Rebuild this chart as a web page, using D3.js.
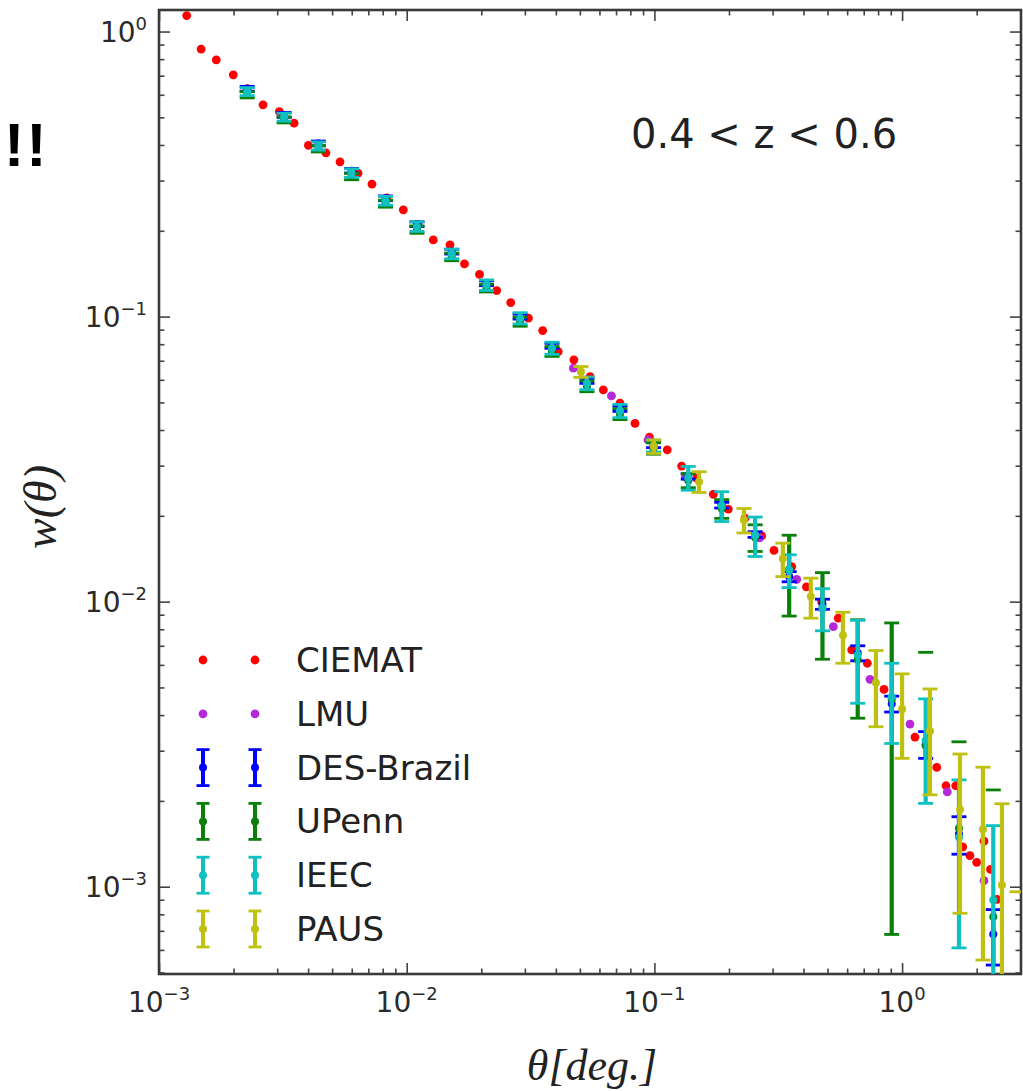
<!DOCTYPE html>
<html><head><meta charset="utf-8">
<script src="https://cdn.jsdelivr.net/npm/d3@7"></script>
<style>body{margin:0;background:#fff}</style>
</head><body>
<svg id="c" width="1023" height="1091"></svg>
<script>
// ---------------- DATA ----------------
const ciematTheta = [0.001294,0.001479,0.001703,0.001995,0.002272,0.00263,0.00306,0.00351,0.00401,0.00472,0.00538,0.00636,0.00724,0.00832,0.00969,0.01111,0.0128,0.01496,0.01711,0.01968,0.02308,0.0263,0.0310,0.0354,0.0409,0.0473,0.0550,0.0622,0.0726,0.0835,0.0955,0.1127,0.1288,0.1482,0.1729,0.1987,0.2322,0.2711,0.3040,0.3584,0.4111,0.4734,0.5526,0.6259,0.7236,0.8453,1.127,1.380,1.504,1.646,1.757,1.879,2.001,2.141,2.275,2.416];
const ciematW = [1.138,0.868,0.796,0.705,0.630,0.553,0.524,0.477,0.399,0.3753,0.349,0.3186,0.2917,0.261,0.2368,0.2099,0.1858,0.1785,0.1531,0.1406,0.1234,0.1120,0.0987,0.0893,0.0754,0.0705,0.0616,0.0553,0.0497,0.0422,0.0378,0.0341,0.0299,0.0271,0.0238,0.0211,0.01962,0.0170,0.01512,0.01327,0.01126,0.0100,0.00875,0.00677,0.00608,0.00492,0.00335,0.00262,0.00226,0.00226,0.00138,0.001285,0.001218,0.001444,0.00115,0.000903];

const lmuTheta = [0.0471,0.0671,0.0942,0.1335,0.187,0.2656,0.3755,0.5277,0.742,1.076,1.522,2.141];
const lmuW = [0.0659,0.0527,0.0369,0.0274,0.0220,0.01673,0.01196,0.00817,0.00534,0.00372,0.00215,0.00105];

const binTheta = [0.00227,0.00320,0.00440,0.00599,0.00821,0.0110,0.0152,0.0210,0.0287,0.0386,0.0534,0.0726,0.0992,0.137,0.187,0.255,0.350,0.477,0.662,0.908,1.245,1.697,2.334];

const desW = [0.63,0.51,0.405,0.325,0.26,0.211,0.169,0.131,0.1,0.079,0.0595,0.0475,0.0355,0.0275,0.0218,0.0172,0.01224,0.0098,0.0066,0.00438,0.00316,0.00153,0.000681];
const desErr = [0.012,0.01,0.008,0.006,0.005,0.004,0.0033,0.0026,0.002,0.0016,0.0012,0.001,0.0008,0.0006,0.0005,0.0004,0.0005,0.0004,0.0004,0.00028,0.00034,0.00023,0.00015];

const upennW = [0.60,0.49,0.388,0.31,0.249,0.202,0.162,0.126,0.096,0.0755,0.057,0.0455,0.0345,0.0266,0.0212,0.0168,0.0130,0.00946,0.00627,0.00455,0.00312,0.001603,0.000785];
const upennErr = [0.015,0.012,0.01,0.008,0.007,0.006,0.005,0.004,0.0035,0.003,0.0025,0.002,0.0016,0.0015,0.0016,0.0018,0.0041,0.00318,0.00237,0.00387,0.00352,0.00162,0.0014];

const ieecW = [0.616,0.501,0.397,0.319,0.255,0.207,0.166,0.129,0.0987,0.0775,0.0584,0.0467,0.0352,0.0272,0.0217,0.0171,0.0129,0.0095,0.0065,0.00463,0.00326,0.00149,0.000898];
const ieecErr = [0.02,0.016,0.013,0.011,0.009,0.008,0.0065,0.0055,0.0045,0.0038,0.003,0.0025,0.0017,0.0026,0.0026,0.0027,0.0017,0.0016,0.0021,0.00145,0.0013,0.00088,0.00074];

const pausTheta = [0.0505,0.0995,0.1514,0.230,0.330,0.428,0.577,0.784,1.0,1.296,1.713,2.12,2.53,2.91];
const pausW = [0.0640,0.0350,0.02636,0.01932,0.01414,0.01042,0.00763,0.00519,0.0042,0.00352,0.001864,0.001589,0.001014,0.0003];
const pausErr = [0.0028,0.0019,0.0022,0.0019,0.0019,0.00167,0.00155,0.00155,0.00138,0.00142,0.001057,0.001036,0.00094,0.00066];

const legendLabels = ["CIEMAT","LMU","DES-Brazil","UPenn","IEEC","PAUS"];
const colors = {CIEMAT:"#ff0000", LMU:"#b52ad8", "DES-Brazil":"#0000ff", UPenn:"#0a800a", IEEC:"#10c0c0", PAUS:"#c0c010"};
const majorTicks = [1e-3,1e-2,1e-1,1];
const majorLabels = ["−3","−2","−1","0"];

// ---------------- CHART ----------------
const svg = d3.select("#c");
const L=159, T=10, R=1021, B=974;
const x = d3.scaleLog().domain([1e-3, 3.02]).range([L, R]);
const y = d3.scaleLog().domain([4.94e-4, 1.19]).range([B, T]);

svg.append("defs").append("clipPath").attr("id","clip")
  .append("rect").attr("x",L).attr("y",T).attr("width",R-L).attr("height",B-T);

function minors(lo, hi){
  const out=[];
  for(let e=-4;e<=1;e++) for(let k=2;k<=9;k++){const v=k*Math.pow(10,e); if(v>=lo&&v<=hi) out.push(v);}
  return out;
}
const xMin = minors(1e-3,3.02), yMin = minors(4.94e-4,1.19);
const tickCol = "#444";
function styleAxis(g){ g.select(".domain").remove(); g.selectAll("line").attr("stroke",tickCol).attr("stroke-width",1.6); g.selectAll("text").remove(); }

[[d3.axisBottom, `translate(0,${B})`, x, majorTicks, 11],[d3.axisBottom, `translate(0,${B})`, x, xMin, 5.5],
 [d3.axisTop, `translate(0,${T})`, x, majorTicks, 11],[d3.axisTop, `translate(0,${T})`, x, xMin, 5.5],
 [d3.axisLeft, `translate(${L},0)`, y, majorTicks, 11],[d3.axisLeft, `translate(${L},0)`, y, yMin, 5.5],
 [d3.axisRight, `translate(${R},0)`, y, majorTicks, 11],[d3.axisRight, `translate(${R},0)`, y, yMin, 5.5]
].forEach(([fn,tr,sc,vals,len])=>{
  svg.append("g").attr("transform",tr).call(fn(sc).tickValues(vals).tickSize(-len).tickFormat(()=>"")).call(styleAxis);
});

svg.append("rect").attr("x",L).attr("y",T).attr("width",R-L).attr("height",B-T)
  .attr("fill","none").attr("stroke","#3a3a3a").attr("stroke-width",2.6);

const tf = "DejaVu Sans, sans-serif";
majorTicks.forEach((v,i)=>{
  const t = svg.append("text").attr("x",x(v)).attr("y",B+38).attr("text-anchor","middle")
    .attr("font-family",tf).attr("font-size",28).attr("fill","#2a2a2a");
  t.append("tspan").text("10");
  t.append("tspan").attr("font-size",18).attr("dy",-12).text(majorLabels[i]);
  const u = svg.append("text").attr("x",147).attr("y",y(v)+10).attr("text-anchor","end")
    .attr("font-family",tf).attr("font-size",28).attr("fill","#2a2a2a");
  u.append("tspan").text("10");
  u.append("tspan").attr("font-size",18).attr("dy",-12).text(majorLabels[i]);
});

svg.append("text").attr("x",592).attr("y",1080).attr("text-anchor","middle")
  .attr("font-family","Liberation Serif, serif").attr("font-style","italic").attr("font-size",44).attr("fill","#222")
  .text("θ[deg.]");
svg.append("text").attr("transform","translate(56,507) rotate(-90)").attr("text-anchor","middle")
  .attr("font-family","Liberation Serif, serif").attr("font-style","italic").attr("font-size",46).attr("fill","#222")
  .text("w(θ)");

svg.append("text").attr("x",631).attr("y",148).attr("font-family",tf).attr("font-size",40).attr("fill","#222")
  .text("0.4 < z < 0.6");
svg.append("text").attr("x",4).attr("y",166).attr("font-family","Liberation Sans, sans-serif").attr("font-weight","bold")
  .attr("font-size",61).attr("letter-spacing",2).attr("fill","#000").text("!!");

const plot = svg.append("g").attr("clip-path","url(#clip)");

function dots(thetas, ws, col, r){
  plot.append("g").selectAll("circle").data(thetas.map((t,i)=>({t,w:ws[i]}))).join("circle")
    .attr("cx",d=>x(d.t)).attr("cy",d=>y(d.w)).attr("r",r).attr("fill",col);
}
function errs(thetas, ws, es, col){
  const g = plot.append("g");
  const data = thetas.map((t,i)=>({t,w:ws[i],e:es[i]}));
  const cw = 7.5;
  data.forEach(d=>{
    const cx = x(d.t), hi = d.w + d.e, lo = d.w - d.e;
    if(lo > 0){
      g.append("line").attr("x1",cx).attr("x2",cx).attr("y1",y(lo)).attr("y2",y(hi))
        .attr("stroke",col).attr("stroke-width",4.2);
      g.append("line").attr("x1",cx-cw).attr("x2",cx+cw).attr("y1",y(lo)).attr("y2",y(lo))
        .attr("stroke",col).attr("stroke-width",2.8);
    }
    g.append("line").attr("x1",cx-cw).attr("x2",cx+cw).attr("y1",y(hi)).attr("y2",y(hi))
      .attr("stroke",col).attr("stroke-width",2.8);
    g.append("circle").attr("cx",cx).attr("cy",y(d.w)).attr("r",4).attr("fill",col);
  });
}

dots(ciematTheta, ciematW, colors.CIEMAT, 4.4);
dots(lmuTheta, lmuW, colors.LMU, 4.4);
errs(binTheta, desW, desErr, colors["DES-Brazil"]);
errs(binTheta, upennW, upennErr, colors.UPenn);
errs(binTheta, ieecW, ieecErr, colors.IEEC);
errs(pausTheta, pausW, pausErr, colors.PAUS);

const leg = svg.append("g");
legendLabels.forEach((name,i)=>{
  const cy = 660 + i*53.8;
  const col = colors[name];
  [203,255].forEach(mx=>{
    if(i<2){
      leg.append("circle").attr("cx",mx).attr("cy",cy).attr("r",4.4).attr("fill",col);
    } else {
      leg.append("line").attr("x1",mx).attr("x2",mx).attr("y1",cy-18).attr("y2",cy+18).attr("stroke",col).attr("stroke-width",4);
      [-18,18].forEach(o=>leg.append("line").attr("x1",mx-6.5).attr("x2",mx+6.5).attr("y1",cy+o).attr("y2",cy+o).attr("stroke",col).attr("stroke-width",2.8));
      leg.append("circle").attr("cx",mx).attr("cy",cy).attr("r",4).attr("fill",col);
    }
  });
  leg.append("text").attr("x",296).attr("y",cy+12).attr("font-family",tf).attr("font-size",34).attr("fill","#222").text(name);
});
</script>
</body></html>
